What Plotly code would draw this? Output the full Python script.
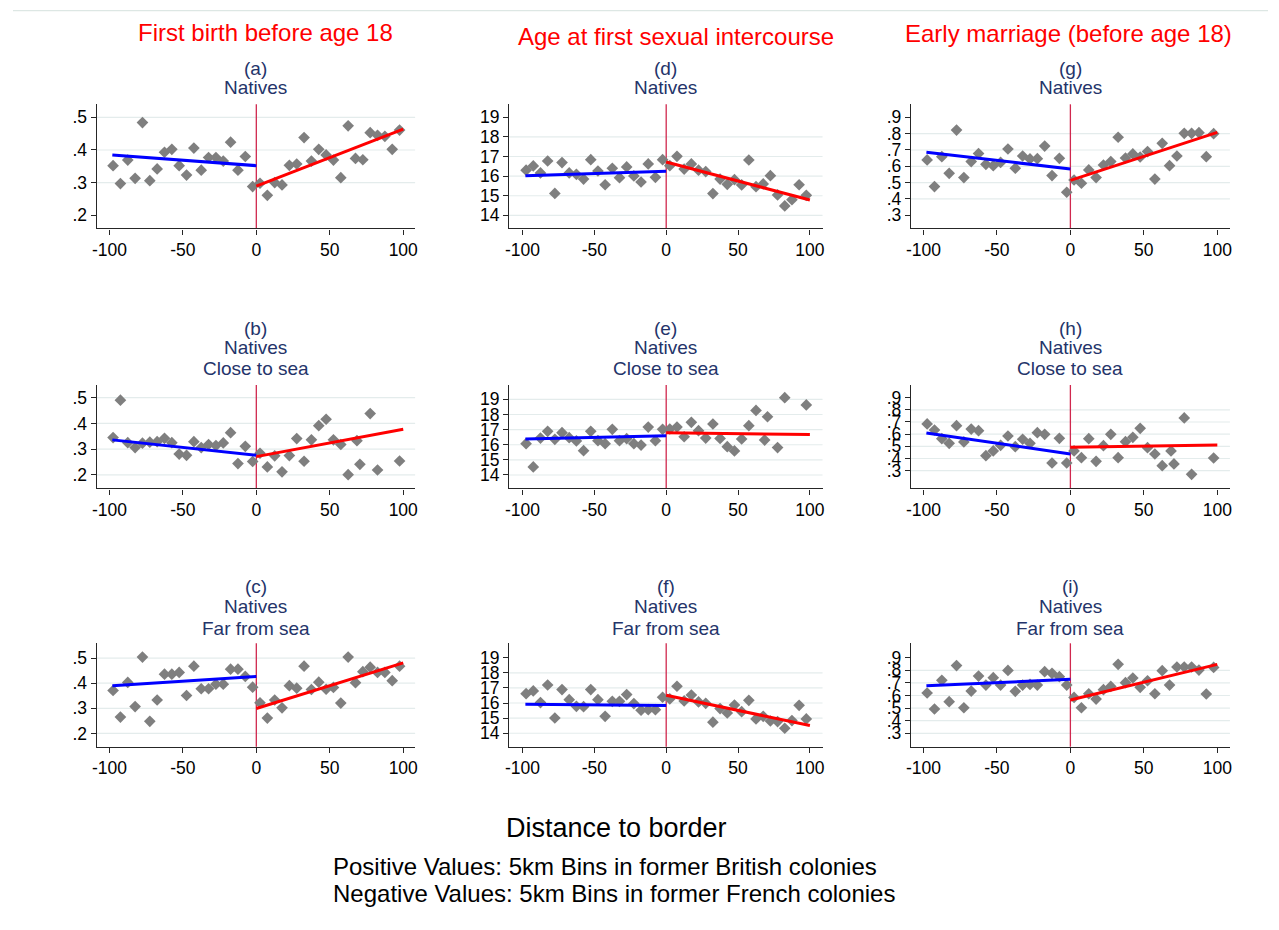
import plotly.graph_objects as go

# ---------------- data ----------------
bins_neg = [-97.5, -92.5, -87.5, -82.5, -77.5, -72.5, -67.5, -62.5, -57.5, -52.5,
            -47.5, -42.5, -37.5, -32.5, -27.5, -22.5, -17.5, -12.5, -7.5, -2.5]
bins_pos = [2.5, 7.5, 12.5, 17.5, 22.5, 27.5, 32.5, 37.5, 42.5, 47.5,
            52.5, 57.5, 62.5, 67.5, 72.5, 77.5, 82.5, 87.5, 92.5, 97.5]
bins_pos_close = [2.5, 7.5, 12.5, 17.5, 22.5, 27.5, 32.5, 37.5, 42.5, 47.5,
                  52.5, 57.5, 62.5, 68.5, 70.5, 77.5, 82.5, 97.5]
fit_x_neg = [-98, 0]
fit_x_pos = [0, 100]

# (a) first birth, natives
a_neg = [.352, .297, .369, .313, .484, .306, .342, .393, .402, .352,
         .323, .406, .338, .377, .377, .366, .424, .338, .380, .288]
a_pos = [.298, .261, .300, .293, .353, .357, .438, .366, .402, .385,
         .369, .315, .474, .374, .370, .453, .445, .442, .402, .461]
a_fit_neg = [.385, .352]
a_fit_pos = [.289, .464]
# (b) first birth, close to sea
b_neg = [.345, .490, .325, .306, .323, .327, .329, .342, .325, .281,
         .276, .329, .306, .318, .314, .324, .364, .244, .311, .252]
b_pos = [.284, .231, .274, .212, .275, .341, .253, .336, .391, .416,
         .336, .318, .201, .333, .241, .438, .219, .254]
b_fit_neg = [.336, .276]
b_fit_pos = [.271, .377]
# (c) first birth, far from sea
c_neg = [.371, .265, .403, .307, .504, .248, .333, .436, .436, .443,
         .351, .468, .378, .378, .396, .396, .456, .456, .427, .384]
c_pos = [.322, .261, .333, .302, .390, .380, .468, .375, .404, .376,
         .383, .321, .504, .402, .446, .464, .443, .443, .410, .468]
c_fit_neg = [.390, .427]
c_fit_pos = [.299, .481]
# (d) age at first sex, natives
d_neg = [16.30, 16.52, 16.16, 16.77, 15.12, 16.69, 16.16, 16.09, 15.85, 16.84,
         16.26, 15.56, 16.40, 15.92, 16.47, 16.01, 15.70, 16.62, 15.94, 16.84]
d_pos = [16.53, 17.01, 16.36, 16.62, 16.30, 16.23, 15.11, 15.85, 15.58, 15.82,
         15.55, 16.82, 15.46, 15.60, 16.02, 15.04, 14.48, 14.80, 15.56, 15.02]
d_fit_neg = [16.02, 16.25]
d_fit_pos = [16.72, 14.78]
# (e) age at first sex, close to sea
e_neg = [16.07, 14.53, 16.44, 16.89, 16.36, 16.80, 16.47, 16.25, 15.61, 16.89,
         16.27, 16.07, 17.02, 16.27, 16.40, 16.07, 15.98, 17.17, 16.27, 17.02]
e_pos = [17.04, 17.17, 16.53, 17.48, 16.93, 16.44, 17.37, 16.42, 15.87, 15.59,
         16.38, 17.26, 18.27, 16.31, 17.85, 15.81, 19.11, 18.63]
e_fit_neg = [16.38, 16.60]
e_fit_pos = [16.80, 16.67]
# (f) age at first sex, far from sea
f_neg = [16.62, 16.80, 16.03, 17.19, 15.01, 16.89, 16.22, 15.78, 15.76, 16.89,
         16.22, 15.12, 16.11, 16.11, 16.56, 15.96, 15.52, 15.56, 15.56, 16.38]
f_pos = [16.27, 17.11, 16.14, 16.53, 16.07, 15.98, 14.73, 15.63, 15.34, 15.87,
         15.43, 16.18, 14.95, 15.12, 14.81, 14.77, 14.33, 14.84, 15.85, 14.95]
f_fit_neg = [15.92, 15.83]
f_fit_pos = [16.51, 14.51]
# (g) early marriage, natives
g_neg = [.639, .476, .659, .557, .822, .531, .629, .678, .612, .604,
         .624, .706, .588, .663, .645, .647, .724, .543, .649, .441]
g_pos = [.516, .496, .578, .531, .608, .629, .778, .651, .676, .657,
         .690, .522, .741, .604, .663, .802, .802, .806, .659, .800]
g_fit_neg = [.686, .584]
g_fit_pos = [.514, .808]
# (h) early marriage, close to sea
h_neg = [.684, .634, .563, .525, .670, .536, .642, .629, .423, .462,
         .508, .585, .497, .558, .525, .612, .599, .363, .566, .363]
h_pos = [.462, .407, .563, .377, .505, .599, .407, .538, .574, .648,
         .489, .437, .341, .462, .355, .733, .270, .404]
h_fit_neg = [.610, .437]
h_fit_pos = [.492, .511]
# (i) early marriage, far from sea
i_neg = [.620, .493, .720, .551, .837, .503, .635, .754, .683, .741,
         .683, .799, .633, .683, .688, .683, .789, .776, .749, .683]
i_pos = [.585, .503, .614, .572, .646, .672, .847, .702, .739, .665,
         .717, .614, .797, .683, .826, .826, .826, .802, .612, .823]
i_fit_neg = [.678, .728]
i_fit_pos = [.564, .847]

x_tickvals = [-100, -50, 0, 50, 100]
x_ticktext = ["-100", "-50", "0", "50", "100"]
share_tickvals = [.2, .3, .4, .5]
share_ticktext = [".2", ".3", ".4", ".5"]
age_tickvals = [14, 15, 16, 17, 18, 19]
age_ticktext = ["14", "15", "16", "17", "18", "19"]
marr_tickvals = [.3, .4, .5, .6, .7, .8, .9]
marr_ticktext = [".3", ".4", ".5", ".6", ".7", ".8", ".9"]

col_titles = ["First birth before age 18", "Age at first sexual intercourse",
              "Early marriage (before age 18)"]
panel_letters = [["(a)", "(b)", "(c)"], ["(d)", "(e)", "(f)"], ["(g)", "(h)", "(i)"]]
row_subtitles = [["Natives"], ["Natives", "Close to sea"], ["Natives", "Far from sea"]]

# gridlines drawn per panel
grid_vals = {
    (0, 0): [.3, .4, .5], (0, 1): [.2, .3, .4, .5], (0, 2): [.2, .3, .4, .5],
    (1, 0): [14, 15, 16, 17, 18], (1, 1): [14, 15, 16, 17, 18, 19], (1, 2): [14, 15, 16, 17, 18],
    (2, 0): [.4, .5, .6, .7, .8], (2, 1): [.3, .4, .5, .6, .7, .8], (2, 2): [.3, .4, .5, .6, .7, .8],
}

# panel[col][row]
panels = [
    [(bins_neg, a_neg, bins_pos, a_pos, a_fit_neg, a_fit_pos),
     (bins_neg, b_neg, bins_pos_close, b_pos, b_fit_neg, b_fit_pos),
     (bins_neg, c_neg, bins_pos, c_pos, c_fit_neg, c_fit_pos)],
    [(bins_neg, d_neg, bins_pos, d_pos, d_fit_neg, d_fit_pos),
     (bins_neg, e_neg, bins_pos_close, e_pos, e_fit_neg, e_fit_pos),
     (bins_neg, f_neg, bins_pos, f_pos, f_fit_neg, f_fit_pos)],
    [(bins_neg, g_neg, bins_pos, g_pos, g_fit_neg, g_fit_pos),
     (bins_neg, h_neg, bins_pos_close, h_pos, h_fit_neg, h_fit_pos),
     (bins_neg, i_neg, bins_pos, i_pos, i_fit_neg, i_fit_pos)],
]
y_ticks = [(share_tickvals, share_ticktext), (age_tickvals, age_ticktext),
           (marr_tickvals, marr_ticktext)]

# ---------------- layout geometry ----------------
# The page body has an 8px default margin; the figure is sized to fit inside it
# and all positions below are given in window pixels.
OFF = 8
W, H = 1279 - 2 * OFF, 930 - 2 * OFF
def fx(px):
    return (px - OFF) / W
def fy(py):
    return 1 - (py - OFF) / H

col_dom_px = [(92.3, 412.7), (507.3, 822.7), (911.7, 1232.7)]
row_dom_px = [(104.3, 228.3), (385.0, 488.3), (643.3, 746.7)]
x_ranges = [(-108.6, 108.1), (-109.3, 108.8), (-108.5, 108.6)]
y_ranges = [
    [(0.16, 0.54), (0.148, 0.549), (0.147, 0.559)],
    [(13.34, 19.66), (13.12, 19.95), (13.11, 19.95)],
    [(0.22, 0.98), (0.155, 1.004), (0.194, 1.014)],
]
title_rows_px = [[68, 87], [328, 348, 368], [586.7, 606.7, 628]]
col_title_px = [(261.7, 32), (675, 37), (1070, 33)]

FONT = "Liberation Sans, Arial, sans-serif"
SUB_COLOR = "#24346a"
GRID_COLOR = "#e4ecec"
AXIS_COLOR = "#262626"
TICK_SIZE = 17.5

fig = go.Figure()
layout = dict(width=W, height=H, autosize=False,
              margin=dict(l=0, r=0, t=0, b=0),
              paper_bgcolor="white", plot_bgcolor="white",
              showlegend=False, font=dict(family=FONT, color="black"))
shapes = []
annotations = []

for c in range(3):
    for r in range(3):
        k = r * 3 + c + 1
        xa = "x" if k == 1 else f"x{k}"
        ya = "y" if k == 1 else f"y{k}"
        xn, yn, xp, yp, fn, fp = panels[c][r]
        fig.add_trace(go.Scatter(x=xn + xp, y=yn + yp, mode="markers", xaxis=xa, yaxis=ya,
                                 marker=dict(symbol="diamond", size=9, color="#7f7f7f",
                                             line=dict(width=0))))
        fig.add_trace(go.Scatter(x=fit_x_neg, y=fn, mode="lines", xaxis=xa, yaxis=ya,
                                 line=dict(color="#0000ff", width=3)))
        fig.add_trace(go.Scatter(x=fit_x_pos, y=fp, mode="lines", xaxis=xa, yaxis=ya,
                                 line=dict(color="#ff0000", width=3)))
        x0, x1 = col_dom_px[c]
        y0, y1 = row_dom_px[r]
        tv, tt = y_ticks[c]
        layout["xaxis" if k == 1 else f"xaxis{k}"] = dict(
            domain=[fx(x0), fx(x1)], range=list(x_ranges[c]), anchor=ya,
            tickvals=x_tickvals, ticktext=x_ticktext, ticks="outside", ticklen=5,
            tickcolor=AXIS_COLOR, showline=True, linecolor=AXIS_COLOR, linewidth=1.4,
            showgrid=False, zeroline=False,
            tickfont=dict(size=TICK_SIZE, color="black", family=FONT))
        layout["yaxis" if k == 1 else f"yaxis{k}"] = dict(
            domain=[fy(y1), fy(y0)], range=list(y_ranges[c][r]), anchor=xa,
            tickvals=tv, ticktext=tt, ticks="outside", ticklen=5,
            tickcolor=AXIS_COLOR, showline=True, linecolor=AXIS_COLOR, linewidth=1.4,
            showgrid=False, zeroline=False,
            tickfont=dict(size=TICK_SIZE, color="black", family=FONT))
        for gv in grid_vals[(c, r)]:
            shapes.append(dict(type="line", xref=f"{xa} domain", yref=ya, x0=0, x1=1,
                               y0=gv, y1=gv, line=dict(color=GRID_COLOR, width=1.2), layer="below"))
        shapes.append(dict(type="line", xref=xa, yref=f"{ya} domain", x0=0, x1=0, y0=0, y1=1,
                           line=dict(color="#d0284e", width=1.3), layer="below"))
        lines = [panel_letters[c][r]] + row_subtitles[r]
        cx = (x0 + x1) / 2
        for txt, py in zip(lines, title_rows_px[r]):
            annotations.append(dict(text=txt, x=fx(cx), y=fy(py), xref="paper", yref="paper",
                                    xanchor="center", yanchor="middle", showarrow=False,
                                    font=dict(size=19, color=SUB_COLOR, family=FONT)))
    tx, ty = col_title_px[c]
    annotations.append(dict(text=col_titles[c], x=fx(tx), y=fy(ty), xref="paper", yref="paper",
                            xanchor="center", yanchor="middle", showarrow=False,
                            font=dict(size=24, color="#ff0000", family=FONT)))

annotations.append(dict(text="Distance to border", x=fx(615), y=fy(828), xref="paper", yref="paper",
                        xanchor="center", yanchor="middle", showarrow=False,
                        font=dict(size=27, color="black", family=FONT)))
annotations.append(dict(text="Positive Values: 5km Bins in former British colonies",
                        x=fx(328), y=fy(866), xref="paper", yref="paper",
                        xanchor="left", yanchor="middle", showarrow=False,
                        font=dict(size=24, color="black", family=FONT)))
annotations.append(dict(text="Negative Values: 5km Bins in former French colonies",
                        x=fx(328), y=fy(893), xref="paper", yref="paper",
                        xanchor="left", yanchor="middle", showarrow=False,
                        font=dict(size=24, color="black", family=FONT)))
shapes.append(dict(type="line", xref="paper", yref="paper", x0=0, x1=1, y0=fy(10.7), y1=fy(10.7),
                   line=dict(color="#dde7e4", width=1.2)))

layout["shapes"] = shapes
layout["annotations"] = annotations
fig.update_layout(**layout)
fig.write_html("out.html")
